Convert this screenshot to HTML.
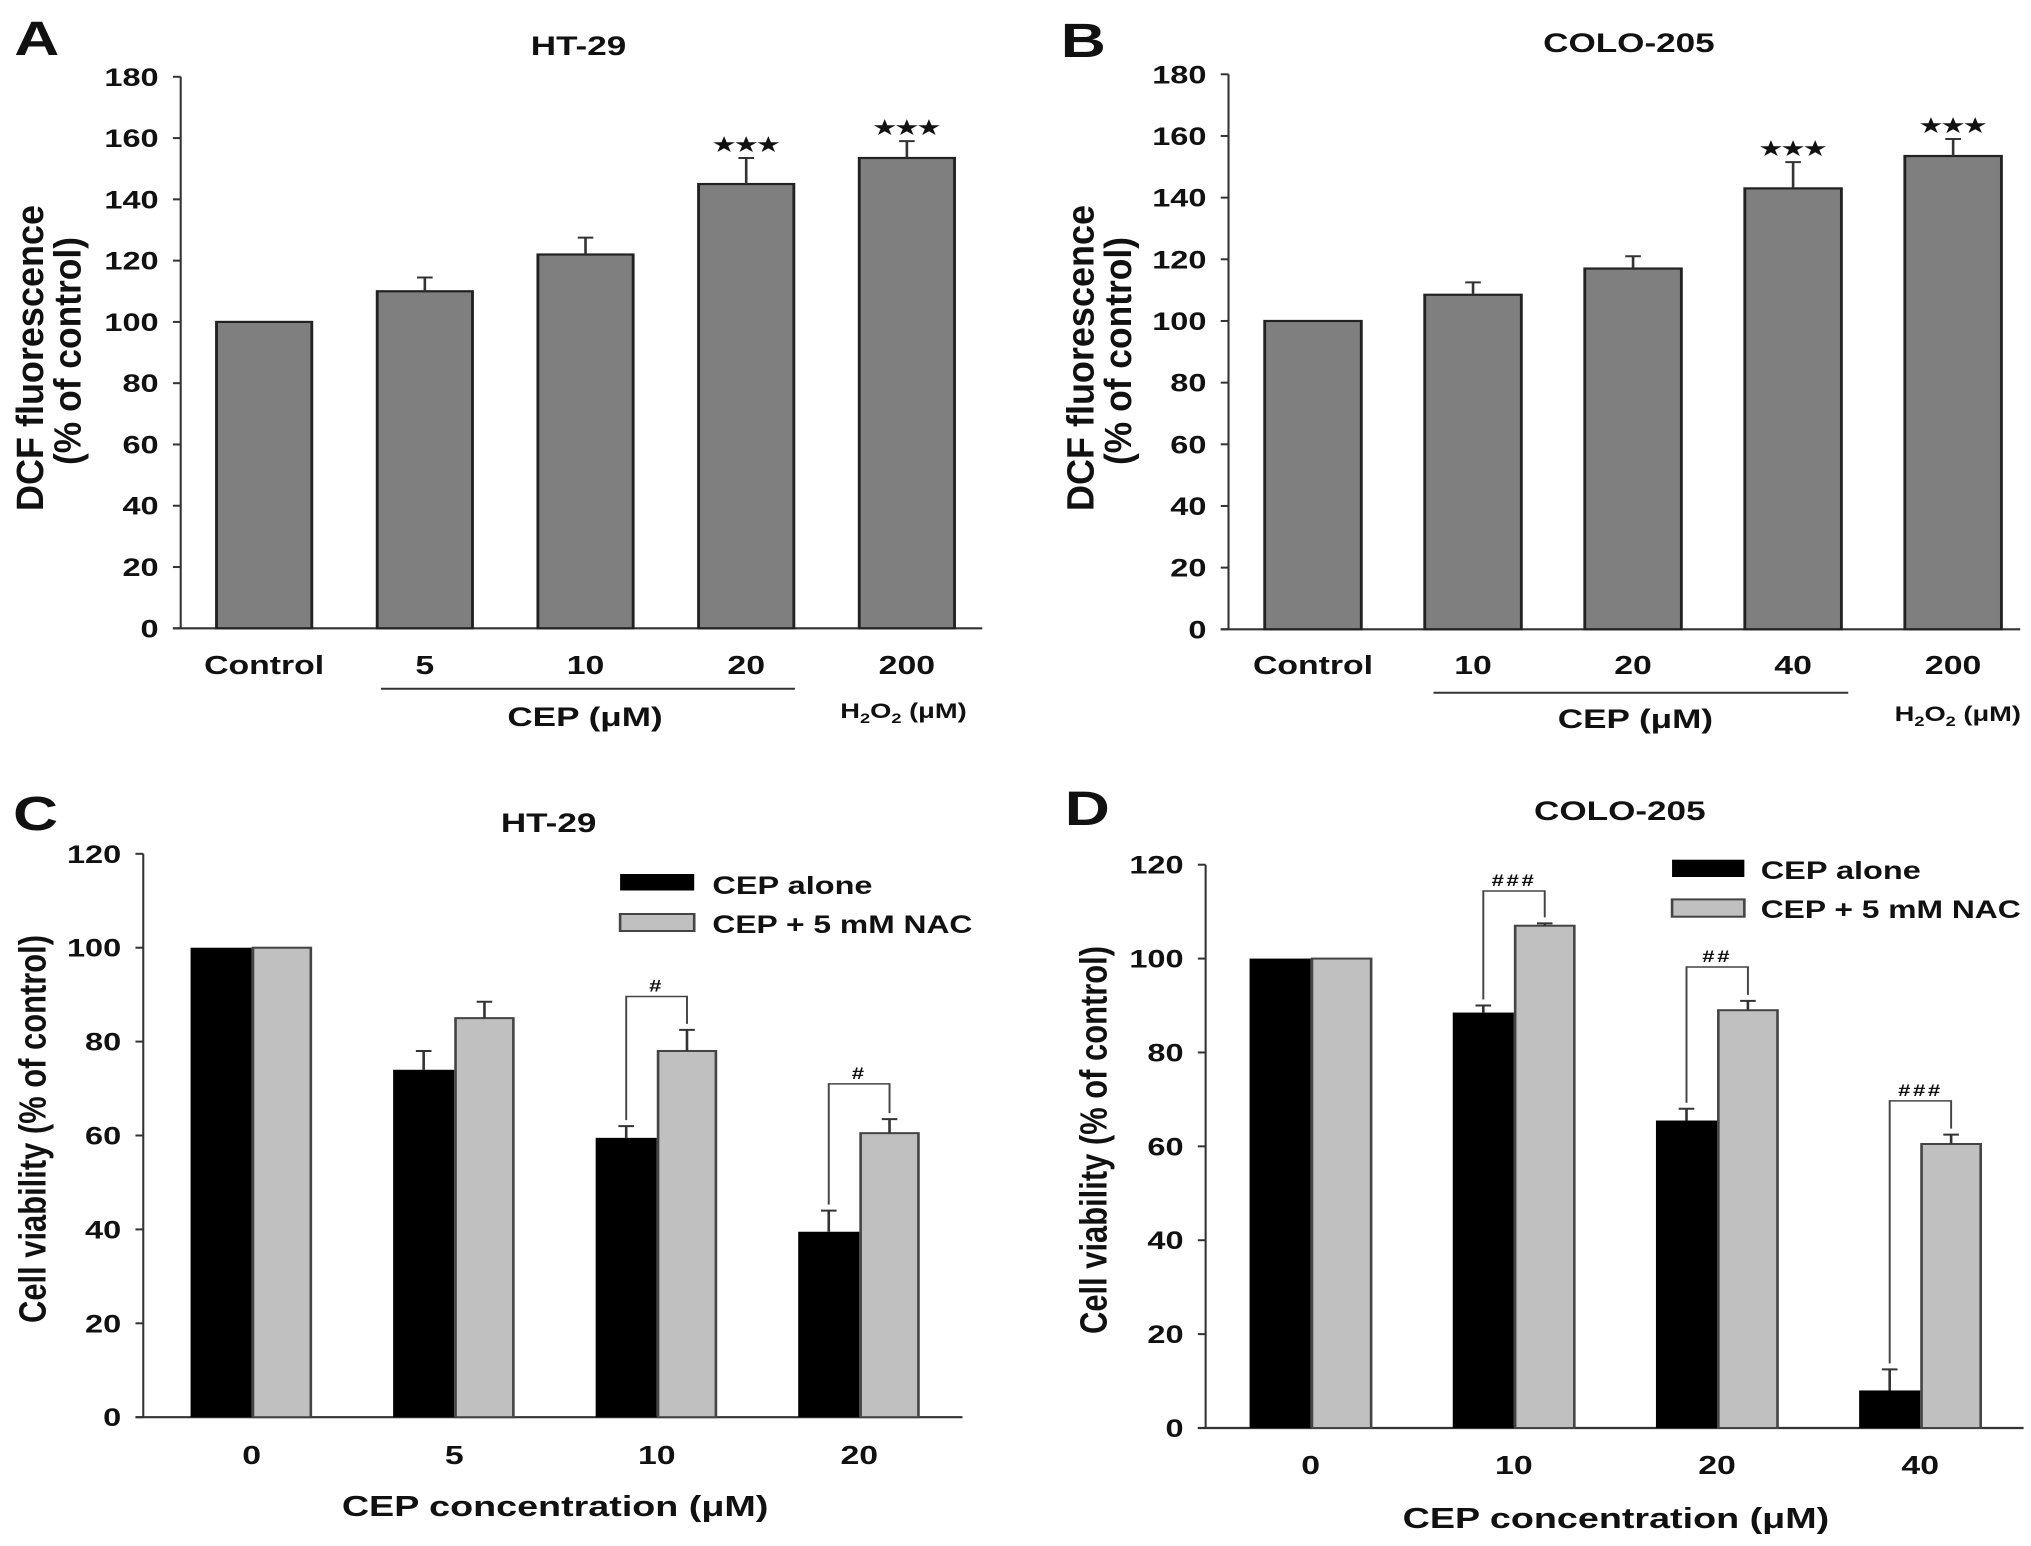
<!DOCTYPE html>
<html><head><meta charset="utf-8"><style>
html,body{margin:0;padding:0;background:#fff;overflow:hidden;}
svg{display:block;}
text{font-family:"Liberation Sans",sans-serif;font-weight:bold;fill:#111;}
</style></head><body>
<svg id="fig" width="2031" height="1546" viewBox="0 0 1562.3 1546" preserveAspectRatio="none" xmlns="http://www.w3.org/2000/svg">
<g>
<text x="11" y="55" font-size="48">A</text>
<text x="445" y="55" font-size="27" text-anchor="middle">HT-29</text>
<text transform="translate(33,358) rotate(-90)" font-size="29" text-anchor="middle" textLength="306" lengthAdjust="spacingAndGlyphs">DCF fluorescence</text>
<text transform="translate(62,351) rotate(-90)" font-size="29" text-anchor="middle" textLength="228" lengthAdjust="spacingAndGlyphs">(% of control)</text>
<line x1="293" y1="688.7" x2="611.5" y2="688.7" stroke="#333" stroke-width="2"/>
<text x="450" y="726" font-size="27" text-anchor="middle">CEP (μM)</text>
<text x="695" y="718" font-size="21" text-anchor="middle">H<tspan font-size="14" dy="5">2</tspan><tspan dy="-5">O</tspan><tspan font-size="14" dy="5">2</tspan><tspan dy="-5"> (μM)</tspan></text>
</g>
<g>
<text x="816" y="57" font-size="48">B</text>
<text x="1253" y="52" font-size="27" text-anchor="middle">COLO-205</text>
<text transform="translate(841,358) rotate(-90)" font-size="29" text-anchor="middle" textLength="306" lengthAdjust="spacingAndGlyphs">DCF fluorescence</text>
<text transform="translate(870,351) rotate(-90)" font-size="29" text-anchor="middle" textLength="228" lengthAdjust="spacingAndGlyphs">(% of control)</text>
<line x1="1102.7" y1="692.7" x2="1421.7" y2="692.7" stroke="#333" stroke-width="2"/>
<text x="1258" y="728" font-size="27" text-anchor="middle">CEP (μM)</text>
<text x="1506" y="721" font-size="21" text-anchor="middle">H<tspan font-size="14" dy="5">2</tspan><tspan dy="-5">O</tspan><tspan font-size="14" dy="5">2</tspan><tspan dy="-5"> (μM)</tspan></text>
</g>
<g>
<text x="10" y="830" font-size="48">C</text>
<text x="422" y="832" font-size="27" text-anchor="middle">HT-29</text>
<text transform="translate(35,1129) rotate(-90)" font-size="29" text-anchor="middle" textLength="388" lengthAdjust="spacingAndGlyphs">Cell viability (% of control)</text>
<text x="427" y="1516" font-size="29" text-anchor="middle">CEP concentration (μM)</text>
<rect x="477" y="874" width="57" height="16.5" fill="#000"/>
<text x="548" y="894" font-size="25">CEP alone</text>
<rect x="477" y="914" width="57" height="17" fill="#c0c0c0" stroke="#444" stroke-width="2"/>
<text x="548" y="933" font-size="25" textLength="200" lengthAdjust="spacingAndGlyphs">CEP + 5 mM NAC</text>
</g>
<g>
<text x="819" y="825" font-size="48">D</text>
<text x="1246" y="820" font-size="27" text-anchor="middle">COLO-205</text>
<text transform="translate(851,1140) rotate(-90)" font-size="29" text-anchor="middle" textLength="388" lengthAdjust="spacingAndGlyphs">Cell viability (% of control)</text>
<text x="1243" y="1528" font-size="29" text-anchor="middle">CEP concentration (μM)</text>
<rect x="1286.2" y="859.7" width="55.6" height="17.3" fill="#000"/>
<text x="1354.4" y="879" font-size="25">CEP alone</text>
<rect x="1286.2" y="899.4" width="55.6" height="17.3" fill="#c0c0c0" stroke="#444" stroke-width="2"/>
<text x="1354.4" y="918" font-size="25" textLength="200" lengthAdjust="spacingAndGlyphs">CEP + 5 mM NAC</text>
</g>
</svg>
<script>
// Panel A data
const aCategories = ["Control","5","10","20","200"];
const aValues = [100,110,122,145,153.5];
const aErrors = [0,4.5,5.5,8.5,5.5];
const aStars = ["","","","***","***"];
// Panel B data
const bCategories = ["Control","10","20","40","200"];
const bValues = [100,108.5,117,143,153.5];
const bErrors = [0,4,4,8.5,5.5];
const bStars = ["","","","***","***"];
const abTicks = [0,20,40,60,80,100,120,140,160,180];
// Panel C data
const cCategories = ["0","5","10","20"];
const cAlone = [100,74,59.5,39.5];
const cAloneErr = [0,4,2.5,4.5];
const cNac = [100,85,78,60.5];
const cNacErr = [0,3.5,4.5,3];
const cSig = ["","","#","#"];
const cBracketTop = [0,0,89.6,71];
// Panel D data
const dCategories = ["0","10","20","40"];
const dAlone = [100,88.5,65.5,8];
const dAloneErr = [0,1.5,2.5,4.5];
const dNac = [100,107,89,60.5];
const dNacErr = [0,0.5,2,2];
const dSig = ["","###","##","###"];
const dBracketTop = [0,114.4,98.2,69.7];
const cdTicks = [0,20,40,60,80,100,120];

const NS="http://www.w3.org/2000/svg";
const svg=document.getElementById('fig');
function mk(tag,attrs,parent){const e=document.createElementNS(NS,tag);for(const k in attrs)e.setAttribute(k,attrs[k]);(parent||svg).appendChild(e);return e;}

function axes(g,x0,y0,x1,yScale,ticks,prefix){
  const ax=mk('line',{x1:x0,y1:y0,x2:x0,y2:yScale(ticks[ticks.length-1]),stroke:'#333','stroke-width':1.6},g);
  
  
  const bx=mk('line',{x1:x0-6,y1:y0,x2:x1,y2:y0,stroke:'#333','stroke-width':2.2},g);
  
  
  ticks.forEach(t=>{
    const y=yScale(t);
    const tl=mk('line',{x1:x0-6,y1:y,x2:x0,y2:y,stroke:'#333','stroke-width':2},g);
    
    
    const tx=mk('text',{x:x0-17,y:y+9,'font-size':25,'text-anchor':'end'},g);
    tx.textContent=t;
    
    
  });
}
function errbar(g,x,yTop,yErr,name){
  const l=mk('path',{d:`M${x} ${yTop}V${yErr}M${x-6} ${yErr}H${x+6}`,stroke:'#333','stroke-width':2,fill:'none'},g);
  
  
}

function simplePanel(prefix,x0,y0,yTopPx,x1,c0,sp,bw,cats,vals,errs,stars,labelY){
  const g=mk('g',{});
  
  
  const ys=v=>y0-(y0-yTopPx)*v/180;
  axes(g,x0,y0,x1,ys,abTicks,prefix);
  cats.forEach((c,i)=>{
    const cx=c0+sp*i, y=ys(vals[i]);
    const r=mk('rect',{x:cx-bw/2,y:y,width:bw,height:y0-y,fill:'#7f7f7f',stroke:'#222','stroke-width':2.2},g);
    
    
    let top=y;
    if(errs[i]>0){top=ys(vals[i]+errs[i]);errbar(g,cx,y,top,prefix+'-error-bar');}
    if(stars[i]){
      const s=mk('text',{x:cx,y:top-7,'font-size':19,'text-anchor':'middle','font-family':'DejaVu Sans'},g);
      s.textContent='★★★';
      
      
    }
    const lbl=mk('text',{x:cx,y:labelY,'font-size':26,'text-anchor':'middle'},g);
    lbl.textContent=c;
    
    
  });
}
function groupPanel(prefix,x0,y0,yTopPx,x1,g0,sp,bw1,bw2,cats,alone,aErr,nac,nErr,sig,btop,labelY){
  const g=mk('g',{});
  
  
  const ys=v=>y0-(y0-yTopPx)*v/120;
  axes(g,x0,y0,x1,ys,cdTicks,prefix);
  cats.forEach((c,i)=>{
    const xa=g0+sp*i, xn=xa+bw1+1;
    const ya=ys(alone[i]), yn=ys(nac[i]);
    const r1=mk('rect',{x:xa,y:ya,width:bw1,height:y0-ya,fill:'#000'},g);
    
    
    const r2=mk('rect',{x:xn,y:yn,width:bw2,height:y0-yn,fill:'#c0c0c0',stroke:'#444','stroke-width':2},g);
    
    
    const ca=xa+bw1/2, cn=xn+bw2/2;
    if(aErr[i]>0)errbar(g,ca,ya,ys(alone[i]+aErr[i]),prefix+'-error-bar-alone');
    if(nErr[i]>0)errbar(g,cn,yn,ys(nac[i]+nErr[i]),prefix+'-error-bar-nac');
    if(sig[i]){
      const bt=ys(btop[i]);
      const b=mk('path',{d:`M${ca} ${ys(alone[i]+aErr[i])-6}V${bt}H${cn}V${ys(nac[i]+nErr[i])-6}`,stroke:'#444','stroke-width':1.5,fill:'none'},g);
      
      
      const s=mk('text',{x:(ca+cn)/2,y:bt-5,'font-size':17,'text-anchor':'middle','letter-spacing':'2'},g);
      s.textContent=sig[i];
      
      
    }
    const lbl=mk('text',{x:xa+bw1,y:labelY,'font-size':26,'text-anchor':'middle'},g);
    lbl.textContent=c;
    
    
  });
}
simplePanel('panel-a',139,628.3,76.8,755.6,203.2,123.6,73.3,aCategories,aValues,aErrors,aStars,674);
simplePanel('panel-b',945,629.3,74.3,1554,1010,123.1,74.3,bCategories,bValues,bErrors,bStars,674);
groupPanel('panel-c',110.2,1417.2,853.8,740.4,146.6,155.8,47,44.5,cCategories,cAlone,cAloneErr,cNac,cNacErr,cSig,cBracketTop,1464);
groupPanel('panel-d',927.4,1428,864.7,1556.6,961.2,156.3,47,45.5,dCategories,dAlone,dAloneErr,dNac,dNacErr,dSig,dBracketTop,1474);
</script>
</body></html>
